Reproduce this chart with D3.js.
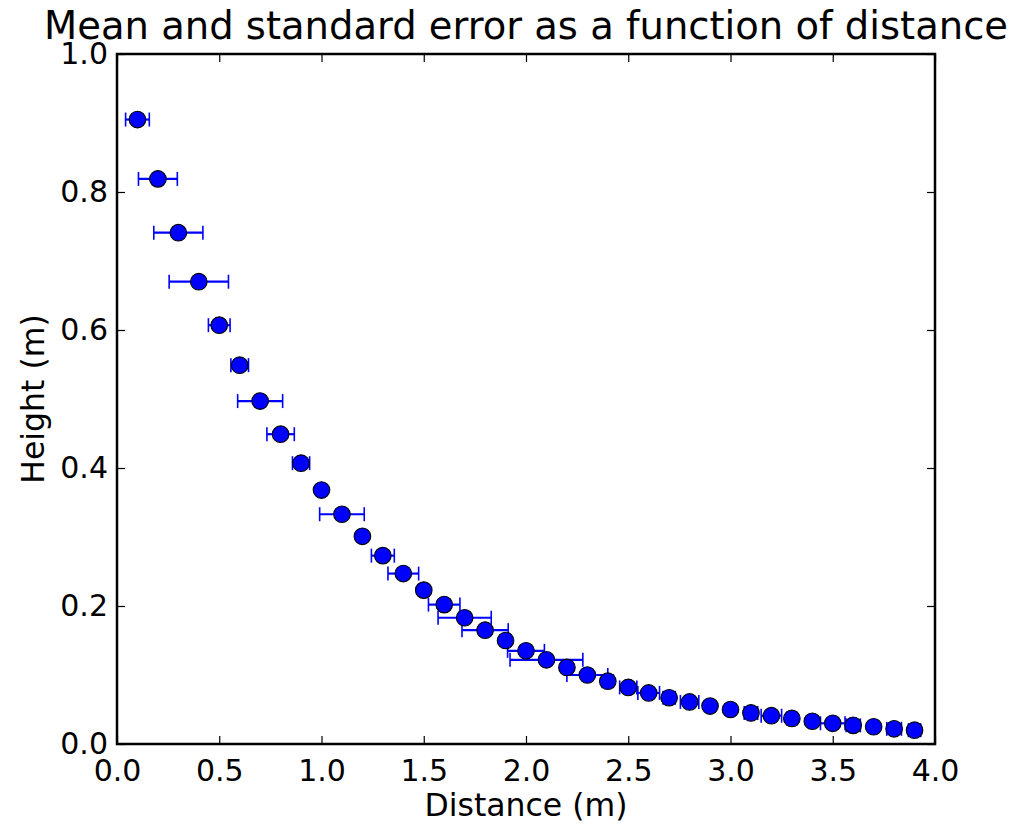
<!DOCTYPE html>
<html>
<head>
<meta charset="utf-8">
<script src="https://cdn.jsdelivr.net/npm/d3@7"></script>
<style>
    body { margin: 0; background: #fff; }
    text { font-family: "DejaVu Sans", sans-serif; }
</style>
</head>
<body>
<div id="main"></div>
<script>
var ctx = {
    w: 1017,
    h: 827,
    left: 117,
    right: 935,
    top: 54,
    bottom: 744,
};

// distances (m)
var distance = [0.1, 0.2, 0.3, 0.4, 0.5, 0.6, 0.7, 0.8, 0.9, 1.0,
    1.1, 1.2, 1.3, 1.4, 1.5, 1.6, 1.7, 1.8, 1.9, 2.0,
    2.1, 2.2, 2.3, 2.4, 2.5, 2.6, 2.7, 2.8, 2.9, 3.0,
    3.1, 3.2, 3.3, 3.4, 3.5, 3.6, 3.7, 3.8, 3.9];
// mean heights (m)
var height = [0.905, 0.819, 0.741, 0.670, 0.607, 0.549, 0.497, 0.449, 0.407, 0.368,
    0.333, 0.301, 0.273, 0.247, 0.223, 0.202, 0.183, 0.165, 0.150, 0.135,
    0.122, 0.111, 0.100, 0.091, 0.082, 0.074, 0.067, 0.061, 0.055, 0.050,
    0.045, 0.041, 0.037, 0.033, 0.030, 0.027, 0.025, 0.022, 0.020];
// standard error along distance
var xerr = [0.058, 0.095, 0.120, 0.145, 0.053, 0.043, 0.110, 0.067, 0.042, 0.010,
    0.109, 0.020, 0.056, 0.075, 0.010, 0.077, 0.130, 0.113, 0.010, 0.090,
    0.178, 0.020, 0.100, 0.027, 0.042, 0.053, 0.030, 0.045, 0.020, 0.020,
    0.033, 0.050, 0.025, 0.020, 0.060, 0.035, 0.020, 0.036, 0.030];

var xTicks = [0, 0.5, 1, 1.5, 2, 2.5, 3, 3.5, 4];
var yTicks = [0, 0.2, 0.4, 0.6, 0.8, 1.0];

var createViz = function () {
    var svg = d3.select("#main").append("svg")
        .attr("width", ctx.w)
        .attr("height", ctx.h);

    var x = d3.scaleLinear().domain([0, 4]).range([ctx.left, ctx.right]);
    var y = d3.scaleLinear().domain([0, 1]).range([ctx.bottom, ctx.top]);

    var data = distance.map(function (d, i) {
        return { x: d, y: height[i], e: xerr[i] };
    });

    var fmt = d3.format(".1f");
    var tickLen = 8;

    // ticks pointing inward, on all four sides
    var bottomAxis = d3.axisBottom(x).tickValues(xTicks).tickFormat(fmt)
        .tickSizeInner(-tickLen).tickSizeOuter(0).tickPadding(16);
    var topAxis = d3.axisTop(x).tickValues(xTicks).tickFormat("")
        .tickSizeInner(-tickLen).tickSizeOuter(0);
    var leftAxis = d3.axisLeft(y).tickValues(yTicks).tickFormat(fmt)
        .tickSizeInner(-tickLen).tickSizeOuter(0).tickPadding(9);
    var rightAxis = d3.axisRight(y).tickValues(yTicks).tickFormat("")
        .tickSizeInner(-tickLen).tickSizeOuter(0);

    var gb = svg.append("g").attr("transform", "translate(0," + ctx.bottom + ")").call(bottomAxis);
    var gt = svg.append("g").attr("transform", "translate(0," + ctx.top + ")").call(topAxis);
    var gl = svg.append("g").attr("transform", "translate(" + ctx.left + ",0)").call(leftAxis);
    var gr = svg.append("g").attr("transform", "translate(" + ctx.right + ",0)").call(rightAxis);

    [gb, gt, gl, gr].forEach(function (g) {
        g.select(".domain").remove();
        g.selectAll(".tick line").attr("stroke", "black").attr("stroke-width", 1.2);
        g.selectAll(".tick text")
            .attr("fill", "black")
            .style("font-size", "30px")
            .style("font-family", "DejaVu Sans");
    });

    // error bars
    var bars = svg.append("g").attr("id", "errorbars");
    bars.selectAll("line.bar")
        .data(data)
        .enter()
        .append("line")
        .attr("class", "bar")
        .attr("x1", function (d) { return x(d.x - d.e); })
        .attr("x2", function (d) { return x(d.x + d.e); })
        .attr("y1", function (d) { return y(d.y); })
        .attr("y2", function (d) { return y(d.y); })
        .attr("stroke", "#0000ff")
        .attr("stroke-width", 2.2);
    ["-", "+"].forEach(function (side) {
        bars.selectAll("line.cap" + (side === "-" ? "l" : "r"))
            .data(data)
            .enter()
            .append("line")
            .attr("class", "cap" + (side === "-" ? "l" : "r"))
            .attr("x1", function (d) { return x(side === "-" ? d.x - d.e : d.x + d.e); })
            .attr("x2", function (d) { return x(side === "-" ? d.x - d.e : d.x + d.e); })
            .attr("y1", function (d) { return y(d.y) - 7; })
            .attr("y2", function (d) { return y(d.y) + 7; })
            .attr("stroke", "#0000ff")
            .attr("stroke-width", 1.6);
    });

    // markers
    svg.append("g")
        .attr("id", "points")
        .selectAll("circle")
        .data(data)
        .enter()
        .append("circle")
        .attr("cx", function (d) { return x(d.x); })
        .attr("cy", function (d) { return y(d.y); })
        .attr("r", 8.3)
        .attr("fill", "#0000ff")
        .style("stroke", "black")
        .style("stroke-width", 1.1);

    // frame
    svg.append("rect")
        .attr("x", ctx.left)
        .attr("y", ctx.top)
        .attr("width", ctx.right - ctx.left)
        .attr("height", ctx.bottom - ctx.top)
        .attr("fill", "none")
        .attr("stroke", "black")
        .attr("stroke-width", 2.5);

    svg.append("text")
        .text("Mean and standard error as a function of distance")
        .attr("x", (ctx.left + ctx.right) / 2)
        .attr("y", 39)
        .attr("text-anchor", "middle")
        .style("font-size", "38.5px");

    svg.append("text")
        .text("Distance (m)")
        .attr("x", (ctx.left + ctx.right) / 2)
        .attr("y", 816)
        .attr("text-anchor", "middle")
        .style("font-size", "31.5px");

    svg.append("text")
        .text("Height (m)")
        .attr("transform", "translate(44," + (ctx.top + ctx.bottom) / 2 + ") rotate(-90)")
        .attr("text-anchor", "middle")
        .style("font-size", "31.5px");
};

createViz();
</script>
</body>
</html>
